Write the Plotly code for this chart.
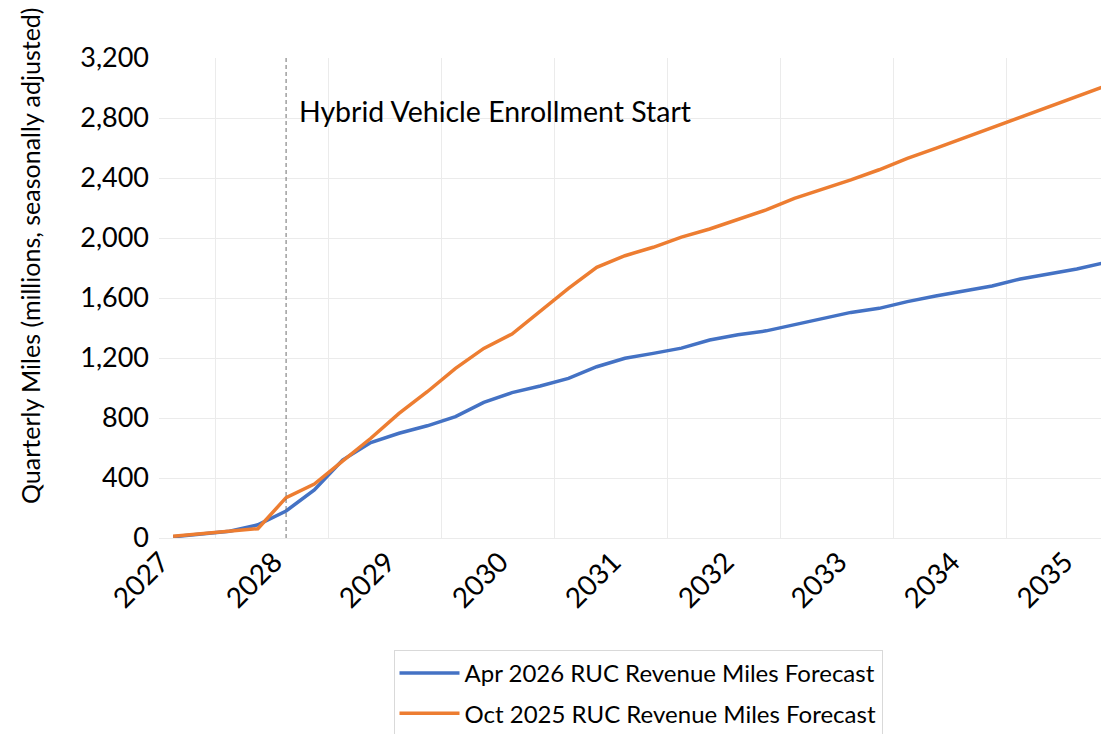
import plotly.graph_objects as go

# ---- data ----
years = [2027, 2028, 2029, 2030, 2031, 2032, 2033, 2034, 2035]
quarters = [f"{y} Q{q}" for y in years for q in range(1, 5)][:34]  # 2027 Q1 .. 2035 Q2
apr_2026 = [8, 25, 45, 88, 180, 320, 520, 636, 698, 748, 809, 904, 969, 1013, 1064,
            1142, 1198, 1231, 1266, 1320, 1355, 1381, 1423, 1466, 1504, 1531, 1576,
            1613, 1647, 1680, 1727, 1760, 1793, 1836]
oct_2025 = [12, 30, 45, 62, 269, 360, 512, 665, 831, 975, 1131, 1264, 1360, 1509, 1664,
            1804, 1882, 1938, 2006, 2060, 2124, 2187, 2264, 2324, 2387, 2455, 2531,
            2598, 2667, 2736, 2809, 2876, 2942, 3013]
series_names = ["Apr 2026 RUC Revenue Miles Forecast", "Oct 2025 RUC Revenue Miles Forecast"]
y_ticks = [0, 400, 800, 1200, 1600, 2000, 2400, 2800, 3200]
event_quarter = "2028 Q1"
event_label = "Hybrid Vehicle Enrollment Start"
y_title = "Quarterly Miles (millions, seasonally adjusted)"

def qpos(label):
    y, q = label.split(" Q")
    return int(y) + (int(q) - 1) / 4

x = [qpos(q) for q in quarters]

FONT = "Lato"
BLUE = "#4472C4"
ORANGE = "#ED7D31"
GRID = "#EBEBEB"

fig = go.Figure()
fig.add_trace(go.Scatter(x=x, y=apr_2026, mode="lines", name=series_names[0],
                         legendgroup="a", line=dict(color=BLUE, width=3.5)))
fig.add_trace(go.Scatter(x=x, y=oct_2025, mode="lines", name=series_names[1],
                         legendgroup="b", line=dict(color=ORANGE, width=3.5)))

ev = qpos(event_quarter)
fig.add_shape(type="line", xref="x", yref="paper", x0=ev, x1=ev, y0=0, y1=1,
              line=dict(color="#6F6F6F", width=1, dash="4px,3px"))

fig.add_annotation(text=event_label, xref="paper", yref="paper",
                   x=(297 - 159) / 950, y=(538 - 111) / 480,
                   xanchor="left", yanchor="middle", showarrow=False,
                   font=dict(family=FONT, size=28.5, color="#000000"))

fig.add_annotation(text=y_title, xref="paper", yref="paper", textangle=-90,
                   x=(30 - 159) / 950, y=(538 - 256) / 480,
                   xanchor="center", yanchor="middle", showarrow=False,
                   font=dict(family=FONT, size=25, color="#000000"))

grid_pos = [y + 0.375 for y in years[:-1]]

# page body has an 8px margin: figure is 8px smaller and margins shifted accordingly
fig.update_layout(
    width=1101, height=726,
    margin=dict(l=151, r=0, t=50, b=196, autoexpand=False),
    paper_bgcolor="white", plot_bgcolor="white",
    font=dict(family=FONT, size=24, color="#000000"),
    showlegend=True,
    legend=dict(x=(638 - 159) / 950, y=(538 - 650) / 480, xanchor="center", yanchor="top",
                bordercolor="#D9D9D9", borderwidth=1, bgcolor="white",
                itemwidth=60, tracegroupgap=6, traceorder="grouped",
                font=dict(family=FONT, size=24, color="#000000")),
    xaxis=dict(range=[2027 - 0.125, 2027 - 0.125 + 950 / 28.24 / 4], automargin=False,
               tickmode="array", tickvals=years, ticktext=[str(y) for y in years],
               tickangle=-45, showgrid=False, zeroline=False, showline=False,
               ticks="", ticklabelstandoff=1, ticklabelshift=-12,
               tickfont=dict(family=FONT, size=28, color="#000000"),
               minor=dict(tickmode="array", tickvals=grid_pos, showgrid=True,
                          gridcolor=GRID, gridwidth=1, ticks="")),
    yaxis=dict(range=[0, 3200], tickmode="array", tickvals=y_ticks, automargin=False,
               tickformat=",d", showgrid=True, gridcolor=GRID, gridwidth=1,
               zeroline=True, zerolinecolor=GRID, zerolinewidth=1, showline=False,
               ticks="", ticklabelstandoff=9,
               tickfont=dict(family=FONT, size=27, color="#000000")),
)

fig.write_html("out.html")
